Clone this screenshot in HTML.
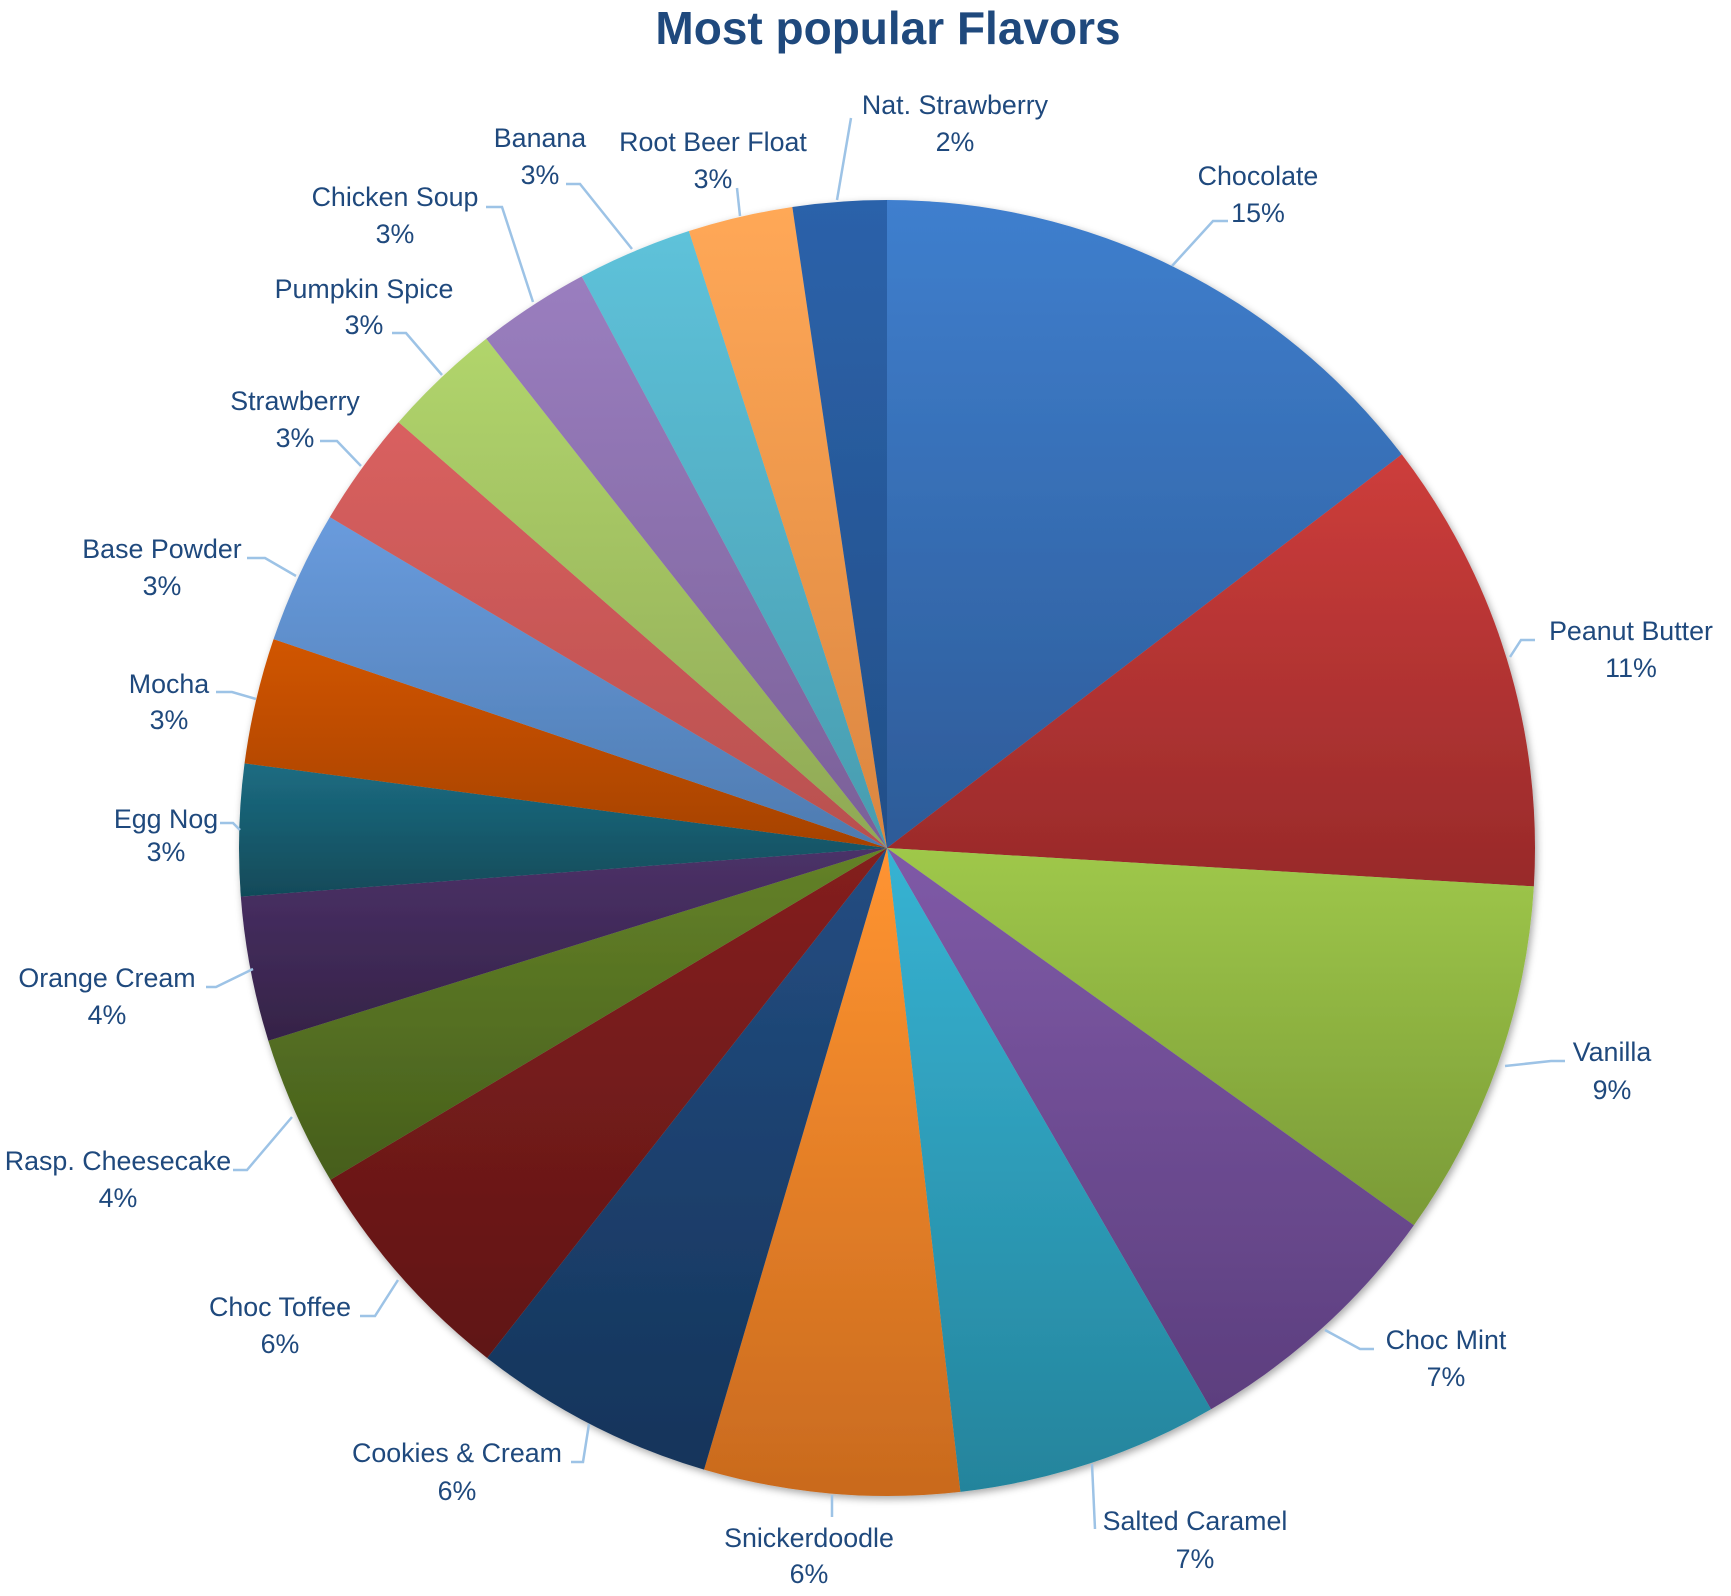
<!DOCTYPE html>
<html>
<head>
<meta charset="utf-8">
<style>
html,body{margin:0;padding:0;background:#fff;}
svg{display:block;}
text{font-family:"Liberation Sans",sans-serif;fill:#1F497D;}
.l{font-size:26.8px;text-anchor:middle;}
.ld{fill:none;stroke:#9DC3E6;stroke-width:2.5;}
</style>
</head>
<body>
<svg width="1731" height="1596" viewBox="0 0 1731 1596" xmlns="http://www.w3.org/2000/svg">
<defs>
<filter id="sh" x="-10%" y="-10%" width="120%" height="120%">
<feDropShadow dx="2" dy="3" stdDeviation="4" flood-color="#000" flood-opacity="0.35"/>
</filter>
<linearGradient id="g1" x1="0" y1="0" x2="0" y2="1"><stop offset="0" stop-color="#3F7FCE"/><stop offset="1" stop-color="#2D5B98"/></linearGradient>
<linearGradient id="g2" x1="0" y1="0" x2="0" y2="1"><stop offset="0" stop-color="#CD3D3B"/><stop offset="1" stop-color="#982A2A"/></linearGradient>
<linearGradient id="g3" x1="0" y1="0" x2="0" y2="1"><stop offset="0" stop-color="#9FC84A"/><stop offset="1" stop-color="#7A9A37"/></linearGradient>
<linearGradient id="g4" x1="0" y1="0" x2="0" y2="1"><stop offset="0" stop-color="#7F5AA7"/><stop offset="1" stop-color="#5C3E7E"/></linearGradient>
<linearGradient id="g5" x1="0" y1="0" x2="0" y2="1"><stop offset="0" stop-color="#37B3D3"/><stop offset="1" stop-color="#24849C"/></linearGradient>
<linearGradient id="g6" x1="0" y1="0" x2="0" y2="1"><stop offset="0" stop-color="#FF9431"/><stop offset="1" stop-color="#C96A1E"/></linearGradient>
<linearGradient id="g7" x1="0" y1="0" x2="0" y2="1"><stop offset="0" stop-color="#234D82"/><stop offset="1" stop-color="#15345A"/></linearGradient>
<linearGradient id="g8" x1="0" y1="0" x2="0" y2="1"><stop offset="0" stop-color="#84201F"/><stop offset="1" stop-color="#601515"/></linearGradient>
<linearGradient id="g9" x1="0" y1="0" x2="0" y2="1"><stop offset="0" stop-color="#648228"/><stop offset="1" stop-color="#465E1C"/></linearGradient>
<linearGradient id="g10" x1="0" y1="0" x2="0" y2="1"><stop offset="0" stop-color="#4B3168"/><stop offset="1" stop-color="#352347"/></linearGradient>
<linearGradient id="g11" x1="0" y1="0" x2="0" y2="1"><stop offset="0" stop-color="#1C6C82"/><stop offset="1" stop-color="#114A59"/></linearGradient>
<linearGradient id="g12" x1="0" y1="0" x2="0" y2="1"><stop offset="0" stop-color="#D15500"/><stop offset="1" stop-color="#A64200"/></linearGradient>
<linearGradient id="g13" x1="0" y1="0" x2="0" y2="1"><stop offset="0" stop-color="#699BDD"/><stop offset="1" stop-color="#4E7BB0"/></linearGradient>
<linearGradient id="g14" x1="0" y1="0" x2="0" y2="1"><stop offset="0" stop-color="#D9605F"/><stop offset="1" stop-color="#B8504F"/></linearGradient>
<linearGradient id="g15" x1="0" y1="0" x2="0" y2="1"><stop offset="0" stop-color="#B1D56C"/><stop offset="1" stop-color="#8FA855"/></linearGradient>
<linearGradient id="g16" x1="0" y1="0" x2="0" y2="1"><stop offset="0" stop-color="#9A7EBF"/><stop offset="1" stop-color="#7A6098"/></linearGradient>
<linearGradient id="g17" x1="0" y1="0" x2="0" y2="1"><stop offset="0" stop-color="#5EC2DA"/><stop offset="1" stop-color="#489CAF"/></linearGradient>
<linearGradient id="g18" x1="0" y1="0" x2="0" y2="1"><stop offset="0" stop-color="#FFA857"/><stop offset="1" stop-color="#DB8640"/></linearGradient>
<linearGradient id="g19" x1="0" y1="0" x2="0" y2="1"><stop offset="0" stop-color="#2C62AA"/><stop offset="1" stop-color="#224F88"/></linearGradient>
</defs>

<text x="888" y="44" style="font-size:46px;font-weight:bold;text-anchor:middle;fill:#1F497D;">Most popular Flavors</text>

<g filter="url(#sh)">
<path fill="url(#g1)" d="M887,848 L887,200 A648,648 0 0 1 1401.78,454.42 Z"/>
<path fill="url(#g2)" d="M887,848 L1401.78,454.42 A648,648 0 0 1 1533.86,886.43 Z"/>
<path fill="url(#g3)" d="M887,848 L1533.86,886.43 A648,648 0 0 1 1413.89,1225.21 Z"/>
<path fill="url(#g4)" d="M887,848 L1413.89,1225.21 A648,648 0 0 1 1211,1409.19 Z"/>
<path fill="url(#g5)" d="M887,848 L1211,1409.19 A648,648 0 0 1 960.35,1491.83 Z"/>
<path fill="url(#g6)" d="M887,848 L960.35,1491.83 A648,648 0 0 1 704.04,1469.63 Z"/>
<path fill="url(#g7)" d="M887,848 L704.04,1469.63 A648,648 0 0 1 487.16,1357.94 Z"/>
<path fill="url(#g8)" d="M887,848 L487.16,1357.94 A648,648 0 0 1 330.39,1179.80 Z"/>
<path fill="url(#g9)" d="M887,848 L330.39,1179.80 A648,648 0 0 1 268.32,1040.70 Z"/>
<path fill="url(#g10)" d="M887,848 L268.32,1040.70 A648,648 0 0 1 240.82,896.59 Z"/>
<path fill="url(#g11)" d="M887,848 L240.82,896.59 A648,648 0 0 1 244.55,763.42 Z"/>
<path fill="url(#g12)" d="M887,848 L244.55,763.42 A648,648 0 0 1 273.57,639.17 Z"/>
<path fill="url(#g13)" d="M887,848 L273.57,639.17 A648,648 0 0 1 329.82,517.17 Z"/>
<path fill="url(#g14)" d="M887,848 L329.82,517.17 A648,648 0 0 1 398.57,422.16 Z"/>
<path fill="url(#g15)" d="M887,848 L398.57,422.16 A648,648 0 0 1 486.27,338.76 Z"/>
<path fill="url(#g16)" d="M887,848 L486.27,338.76 A648,648 0 0 1 581.79,276.38 Z"/>
<path fill="url(#g17)" d="M887,848 L581.79,276.38 A648,648 0 0 1 688.91,231.02 Z"/>
<path fill="url(#g18)" d="M887,848 L688.91,231.02 A648,648 0 0 1 792.34,206.95 Z"/>
<path fill="url(#g19)" d="M887,848 L792.34,206.95 A648,648 0 0 1 887,200 Z"/>
</g>

<!-- leader lines -->
<polyline class="ld" points="1228,221 1213,221 1172,266"/>
<polyline class="ld" points="1535,640 1521,640 1510,657"/>
<polyline class="ld" points="1565,1061 1551,1061 1505,1066"/>
<polyline class="ld" points="1374,1349 1360,1349 1325,1330"/>
<polyline class="ld" points="1095,1529 1092,1464"/>
<polyline class="ld" points="832,1517 832,1495"/>
<polyline class="ld" points="571,1462 583,1462 589,1424"/>
<polyline class="ld" points="360,1316 375,1316 398,1280"/>
<polyline class="ld" points="233,1170 247,1170 292,1117"/>
<polyline class="ld" points="206,987 216,987 253,969"/>
<polyline class="ld" points="220,823 233,823 240,830"/>
<polyline class="ld" points="216,692 232,692 256,699"/>
<polyline class="ld" points="247,558 265,558 296,576"/>
<polyline class="ld" points="320,441 337,441 361,466"/>
<polyline class="ld" points="392,333 406,333 442,375"/>
<polyline class="ld" points="486,207 502,207 533,302"/>
<polyline class="ld" points="566,184 580,184 632,249"/>
<polyline class="ld" points="737,188 740,216"/>
<polyline class="ld" points="851,118 837,200"/>

<!-- labels -->
<text class="l" x="1258" y="185">Chocolate</text><text class="l" x="1258" y="222">15%</text>
<text class="l" x="1631" y="640">Peanut Butter</text><text class="l" x="1631" y="677">11%</text>
<text class="l" x="1612" y="1061">Vanilla</text><text class="l" x="1612" y="1099">9%</text>
<text class="l" x="1446" y="1349">Choc Mint</text><text class="l" x="1446" y="1386">7%</text>
<text class="l" x="1195" y="1530">Salted Caramel</text><text class="l" x="1195" y="1568">7%</text>
<text class="l" x="809" y="1547">Snickerdoodle</text><text class="l" x="809" y="1583">6%</text>
<text class="l" x="457" y="1462">Cookies &amp; Cream</text><text class="l" x="457" y="1500">6%</text>
<text class="l" x="280" y="1316">Choc Toffee</text><text class="l" x="280" y="1353">6%</text>
<text class="l" x="118" y="1170">Rasp. Cheesecake</text><text class="l" x="118" y="1207">4%</text>
<text class="l" x="107" y="987">Orange Cream</text><text class="l" x="107" y="1024">4%</text>
<text class="l" x="166" y="828">Egg Nog</text><text class="l" x="166" y="861">3%</text>
<text class="l" x="169" y="693">Mocha</text><text class="l" x="169" y="729">3%</text>
<text class="l" x="162" y="558">Base Powder</text><text class="l" x="162" y="595">3%</text>
<text class="l" x="295" y="410">Strawberry</text><text class="l" x="295" y="447">3%</text>
<text class="l" x="364" y="298">Pumpkin Spice</text><text class="l" x="364" y="334">3%</text>
<text class="l" x="395" y="206">Chicken Soup</text><text class="l" x="395" y="243">3%</text>
<text class="l" x="540" y="147">Banana</text><text class="l" x="540" y="184">3%</text>
<text class="l" x="713" y="151">Root Beer Float</text><text class="l" x="713" y="188">3%</text>
<text class="l" x="955" y="114">Nat. Strawberry</text><text class="l" x="955" y="151">2%</text>
</svg>
</body>
</html>
